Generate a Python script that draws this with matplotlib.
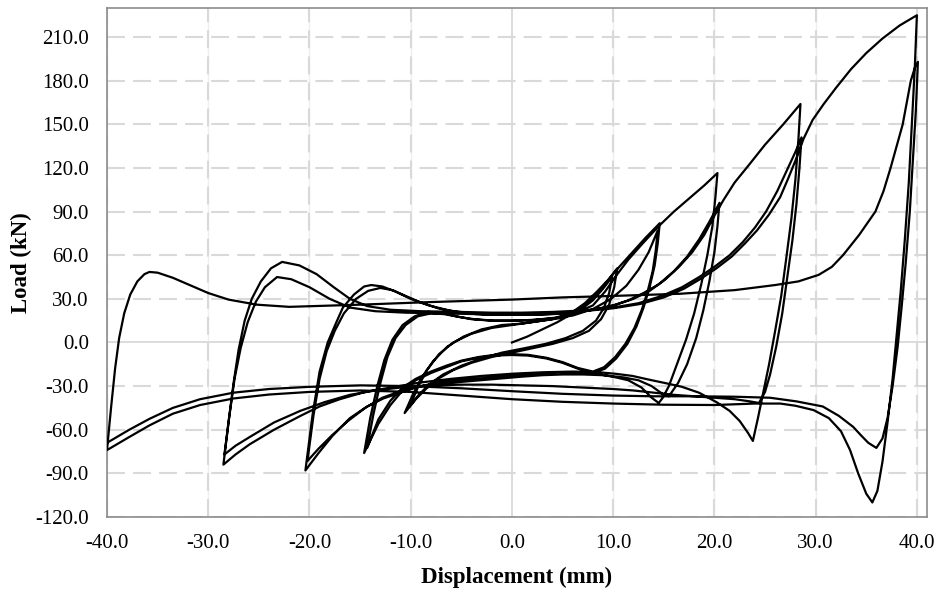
import numpy as np
import matplotlib
matplotlib.use('Agg')
import matplotlib.pyplot as plt

# (displacement mm, load kN), two cycles per amplitude
cyc_10 = [
    (0, 0), (1.5, 4), (3, 9), (4.5, 14), (6, 20), (7.2, 26), (8.3, 33), (9.3, 41), (10.4, 51),
    (10.1, 38), (9.6, 26), (8.8, 16), (7.6, 8), (6, 3), (4, -1), (2, -4), (0, -7), (-2, -10),
    (-4, -14), (-5.8, -19), (-7.3, -25), (-8.5, -32), (-9.5, -39), (-10.6, -48.5),
    (-9.8, -36), (-8.9, -24), (-7.8, -13), (-6.4, -3), (-4.8, 4), (-3, 9), (-1, 12), (1, 13),
    (3, 15), (5, 17), (6.7, 22), (8, 29), (9, 37), (9.9, 45),
    (9.6, 34), (9.1, 24), (8.3, 15), (7, 8), (5.3, 3), (3.3, -1), (1.2, -4), (-1, -7),
    (-3, -11), (-5, -16), (-6.8, -22), (-8.2, -29), (-9.2, -36), (-10.1, -44),
]
cyc_14 = [
    (-9.3, -31), (-8.4, -19), (-7.2, -8), (-5.8, 0), (-4, 6), (-2, 10), (0, 12), (2, 14),
    (4, 16), (5.8, 20), (7.2, 27), (8.4, 35), (9.5, 43), (10.6, 52), (11.9, 62), (13.2, 72),
    (14.6, 82),
    (14.4, 68), (14.1, 53), (13.6, 38), (13, 24), (12.3, 11), (11.4, -1), (10.3, -11),
    (9.2, -18), (8, -21), (6.5, -18), (5, -14), (3.4, -11), (1.6, -9), (0, -8.6), (-1.7, -9),
    (-3.3, -10.5), (-5, -13), (-6.5, -17), (-8, -21), (-9.5, -26), (-10.8, -33), (-12, -43),
    (-13.2, -56), (-14.6, -76),
    (-14, -52), (-13.3, -30), (-12.6, -12), (-11.8, 2), (-10.8, 12), (-9.6, 18), (-8.3, 21),
    (-7, 20.5), (-5.5, 18), (-4, 16), (-2, 15), (0, 15), (2, 15.5), (4, 16.5), (6, 18.5),
    (8, 23), (9.8, 30), (11.3, 39), (12.5, 50), (13.5, 62), (14.4, 77),
    (14.2, 63), (13.9, 49), (13.4, 35), (12.8, 22), (12.1, 10), (11.2, -1), (10.2, -10),
    (9.1, -17), (8, -20), (6.5, -17.5), (5, -13.5), (3.4, -10.5), (1.6, -8.5), (0, -8),
    (-1.7, -8.5), (-3.3, -10), (-5, -12.5), (-6.5, -16), (-8, -20), (-9.5, -25), (-10.8, -31),
    (-12, -40), (-13.2, -53), (-14.3, -72.5),
]
cyc_20 = [
    (-13.7, -50), (-13, -28), (-12.3, -10), (-11.5, 3), (-10.5, 12), (-9.3, 18), (-8, 20),
    (-6.7, 19.5), (-5.2, 17.5), (-3.7, 16), (-1.8, 15), (0.2, 15), (2.2, 15.5), (4.2, 17),
    (6.2, 20), (8, 25.5), (9.2, 35), (10.3, 46), (11.5, 57), (12.9, 68), (14.5, 80),
    (16, 90), (17.5, 99), (19, 108), (20.3, 116.5),
    (20.1, 100), (19.8, 80), (19.3, 60), (18.7, 40), (18, 20), (17.2, 2), (16.3, -15),
    (15.5, -30), (14.9, -38), (14.5, -41.6), (13.8, -38), (12.8, -31), (11.5, -26),
    (10, -23.6), (8.3, -21.5), (6.5, -20.5), (4.5, -20.5), (2.5, -21.5), (0.5, -22.5),
    (-2, -24), (-4.5, -25.5), (-7, -27), (-9.3, -30.5), (-11, -34.5), (-12.7, -38.5),
    (-14.3, -44), (-16, -52), (-17.7, -64), (-19.1, -76), (-20.4, -88),
    (-19.7, -50), (-19, -20), (-18.2, 0), (-17.4, 13), (-16.7, 24), (-15.6, 33),
    (-14.6, 38.5), (-13.9, 39.5), (-12.8, 38.5), (-11.5, 35), (-10, 30), (-8.2, 25.5),
    (-6.2, 22), (-4, 20), (-2, 19), (0, 19), (2, 19), (4, 19.5), (6, 20.5), (8, 22.5),
    (10, 25.5), (11.5, 29), (13, 34), (14.5, 40), (16, 49), (17.3, 59), (18.5, 71),
    (19.5, 83), (20.5, 96),
    (20.3, 80), (20, 62), (19.5, 42), (18.9, 22), (18.2, 3), (17.3, -15), (16.4, -28),
    (15.5, -37), (14.8, -35), (13.8, -30), (12.5, -26), (11, -24), (9, -22.5), (7, -22),
    (5, -22), (3, -22.5), (1, -23.5), (-1.5, -25), (-4, -26.5), (-6.5, -28), (-9, -30),
    (-11, -33.5), (-12.8, -38), (-14.5, -45), (-16.2, -54), (-17.8, -64), (-19.1, -73),
    (-20.2, -81.5),
]
cyc_28 = [
    (-19.6, -50), (-19, -25), (-18.3, -6), (-17.5, 8), (-16.6, 20), (-15.4, 30), (-14.2, 35.5),
    (-13, 37.5), (-11.8, 36), (-10.5, 32), (-9, 27.5), (-7.3, 23.5), (-5.5, 21), (-3.5, 19.5),
    (-1.5, 19), (0.5, 19), (2.5, 19.2), (4.5, 19.8), (6.5, 21), (8.5, 23), (10.3, 26),
    (12, 30), (13.6, 35.5), (15.1, 43), (16.5, 52), (17.8, 62), (19, 74), (19.9, 86),
    (20.9, 98), (22, 110), (23.4, 122), (25, 136), (26.8, 150), (28.5, 164),
    (28.3, 140), (28, 112), (27.6, 85), (27.1, 58), (26.6, 32), (26, 8), (25.4, -15),
    (24.8, -35), (24.3, -52), (23.8, -67.7), (23.3, -62), (22.5, -54), (21.5, -47),
    (20.2, -41), (18.5, -34.6), (16.8, -30.5), (15.2, -28), (13.5, -25.5), (11.9, -23),
    (10.2, -21.5), (8.6, -20.5), (6, -20), (3, -20.5), (0, -21.5), (-3, -23), (-6, -25),
    (-9, -27.5), (-12, -31), (-14.5, -34), (-17, -39), (-19, -44), (-20.9, -50.5),
    (-23.5, -60), (-25.9, -70), (-27.3, -77), (-28.5, -84),
    (-28, -55), (-27.5, -28), (-27, -5), (-26.4, 15), (-25.7, 30), (-24.8, 42), (-23.8, 51),
    (-22.7, 55.4), (-21, 53), (-19.3, 47), (-17.6, 38), (-16, 30), (-14.3, 25), (-12, 22.5),
    (-9, 21.5), (-5, 21), (-2, 20.5), (1, 20.5), (4, 21), (7, 22), (10, 24), (12.5, 27),
    (14.8, 32), (16.8, 38), (18.5, 45), (20, 52), (21.5, 60), (22.8, 69), (24, 79),
    (25.1, 90), (26.2, 104), (27.2, 119), (28, 131), (28.6, 141),
    (28.4, 120), (28.1, 95), (27.7, 70), (27.2, 45), (26.7, 20), (26.1, -3), (25.5, -22),
    (25, -34), (24.4, -41.6), (23.5, -40.5), (22, -39), (20, -38), (18, -37), (16, -36),
    (14, -34.5), (12, -33), (10, -32), (7, -31), (4, -30), (1, -29.5), (-2, -29), (-5, -29),
    (-8, -29.5), (-11, -31), (-13.5, -33), (-16, -36), (-18.5, -41), (-20.9, -47),
    (-23.5, -55), (-25.9, -65), (-27.3, -71), (-28.4, -77),
]
cyc_40 = [
    (-27.9, -50), (-27.4, -25), (-26.8, -4), (-26.1, 14), (-25.3, 28), (-24.4, 38),
    (-23.2, 45), (-21.8, 43.5), (-20, 38), (-18, 30), (-16, 24), (-13.5, 21.5), (-10.5, 20.5),
    (-7, 20), (-3.5, 19.5), (0, 19.5), (3.5, 20), (7, 21.5), (10, 23.5), (12.7, 26.5),
    (15, 31), (17, 37), (18.7, 44), (20.2, 51), (21.7, 59), (23, 68), (24.2, 77), (25.4, 88),
    (26.5, 100), (27.3, 113), (28, 125), (28.8, 140), (29.7, 153), (30.8, 164), (32, 175),
    (33.5, 188), (35, 199), (36.6, 209), (38.3, 218), (40, 225),
    (39.8, 190), (39.5, 150), (39.2, 110), (38.8, 70), (38.4, 35), (38, 5), (37.6, -25),
    (37.1, -55), (36.6, -82), (36.1, -102), (35.6, -110), (35, -104), (34.2, -90),
    (33.4, -74), (32.5, -61), (31.3, -52), (29.8, -46.5), (28, -43.5), (26.5, -42),
    (24, -42), (20, -43), (15, -42.8), (10, -42), (5, -40.8), (0, -39), (-5, -36.5),
    (-10, -34), (-15, -33), (-20, -34), (-24, -35.8), (-27.5, -38.5), (-30.8, -43),
    (-33.5, -49), (-35.8, -57), (-37.8, -65), (-40, -74),
    (-39.6, -45), (-39.2, -18), (-38.8, 3), (-38.3, 20), (-37.7, 33), (-37, 42), (-36.3, 47),
    (-35.8, 48.5), (-35, 48), (-33.5, 44.5), (-32, 40), (-30, 34), (-28, 29.5), (-25.2, 26),
    (-22, 24.5), (-15, 26), (-8, 27.8), (0, 29.5), (5, 31), (10, 32), (16.6, 33.5),
    (22, 36), (26, 39.5), (28.3, 42), (30.3, 46.5), (31.6, 52), (32.7, 60), (34.3, 74),
    (35.9, 90), (36.7, 104), (37.4, 120), (38, 135), (38.6, 150), (39, 165), (39.4, 180),
    (39.8, 189), (40.1, 193),
    (39.9, 160), (39.6, 125), (39.3, 90), (38.9, 55), (38.5, 25), (38.1, -3), (37.6, -30),
    (37.1, -52), (36.6, -66), (36, -72.5), (35.2, -69), (34.5, -64), (33.7, -58),
    (32.3, -50.5), (30.7, -44), (28.1, -40.5), (25.5, -38), (22, -37.3), (18, -37),
    (14, -37), (10, -36.5), (5, -35.3), (0, -33.5), (-5, -31.5), (-10, -30), (-15, -29.5),
    (-20, -30.5), (-24, -32), (-27.5, -34.5), (-30.8, -39), (-33.5, -45), (-35.8, -52.5),
    (-37.8, -60), (-40, -69),
]

x_ticks = np.arange(-40, 41, 10)
y_ticks = np.arange(-120, 211, 30)

path = np.array(cyc_10 + cyc_14 + cyc_20 + cyc_28 + cyc_40)

plt.rcParams['font.family'] = ['Liberation Serif', 'DejaVu Serif']

fig = plt.figure(figsize=(9.36, 5.92), dpi=100)
ax = fig.add_axes([0.1143, 0.1267, 0.8761, 0.8598])

grid_c = '#d9d9d9'
for xv in x_ticks:
    if xv == 0:
        ax.axvline(xv, color=grid_c, lw=1.3, zorder=0)
    else:
        ax.axvline(xv, color='#efefef', lw=1.0, zorder=0)
        ax.axvline(xv, color=grid_c, lw=1.5, ls=(0, (8.6, 3.9)), zorder=0)
for yv in y_ticks:
    if yv == 0:
        ax.axhline(yv, color=grid_c, lw=1.3, zorder=0)
    else:
        ax.axhline(yv, color=grid_c, lw=1.5, ls=(0, (8.6, 3.9)), zorder=0)

ax.plot(path[:, 0], path[:, 1], color='black', lw=1.6, zorder=3)

ax.set_xlim(-40, 41)
ax.set_ylim(-120, 230)
ax.set_xticks(x_ticks)
ax.set_yticks(y_ticks)
ax.set_xticklabels(['%.1f' % v for v in x_ticks])
ax.set_yticklabels(['%.1f' % v for v in y_ticks])
ax.tick_params(length=0, labelsize=15)
ax.tick_params(axis='y', pad=13)
ax.tick_params(axis='x', pad=12)
for s in ax.spines.values():
    s.set_color('#8c8c8c')
    s.set_linewidth(1.2)

ax.set_xlabel('Displacement (mm)', fontsize=16.5, fontweight='bold', va='center')
ax.set_ylabel('Load (kN)', fontsize=16.5, fontweight='bold', va='center')
ax.xaxis.set_label_coords(0.5, -0.118)
ax.yaxis.set_label_coords(-0.104, 0.5)

fig.savefig('out.png', dpi=100)
